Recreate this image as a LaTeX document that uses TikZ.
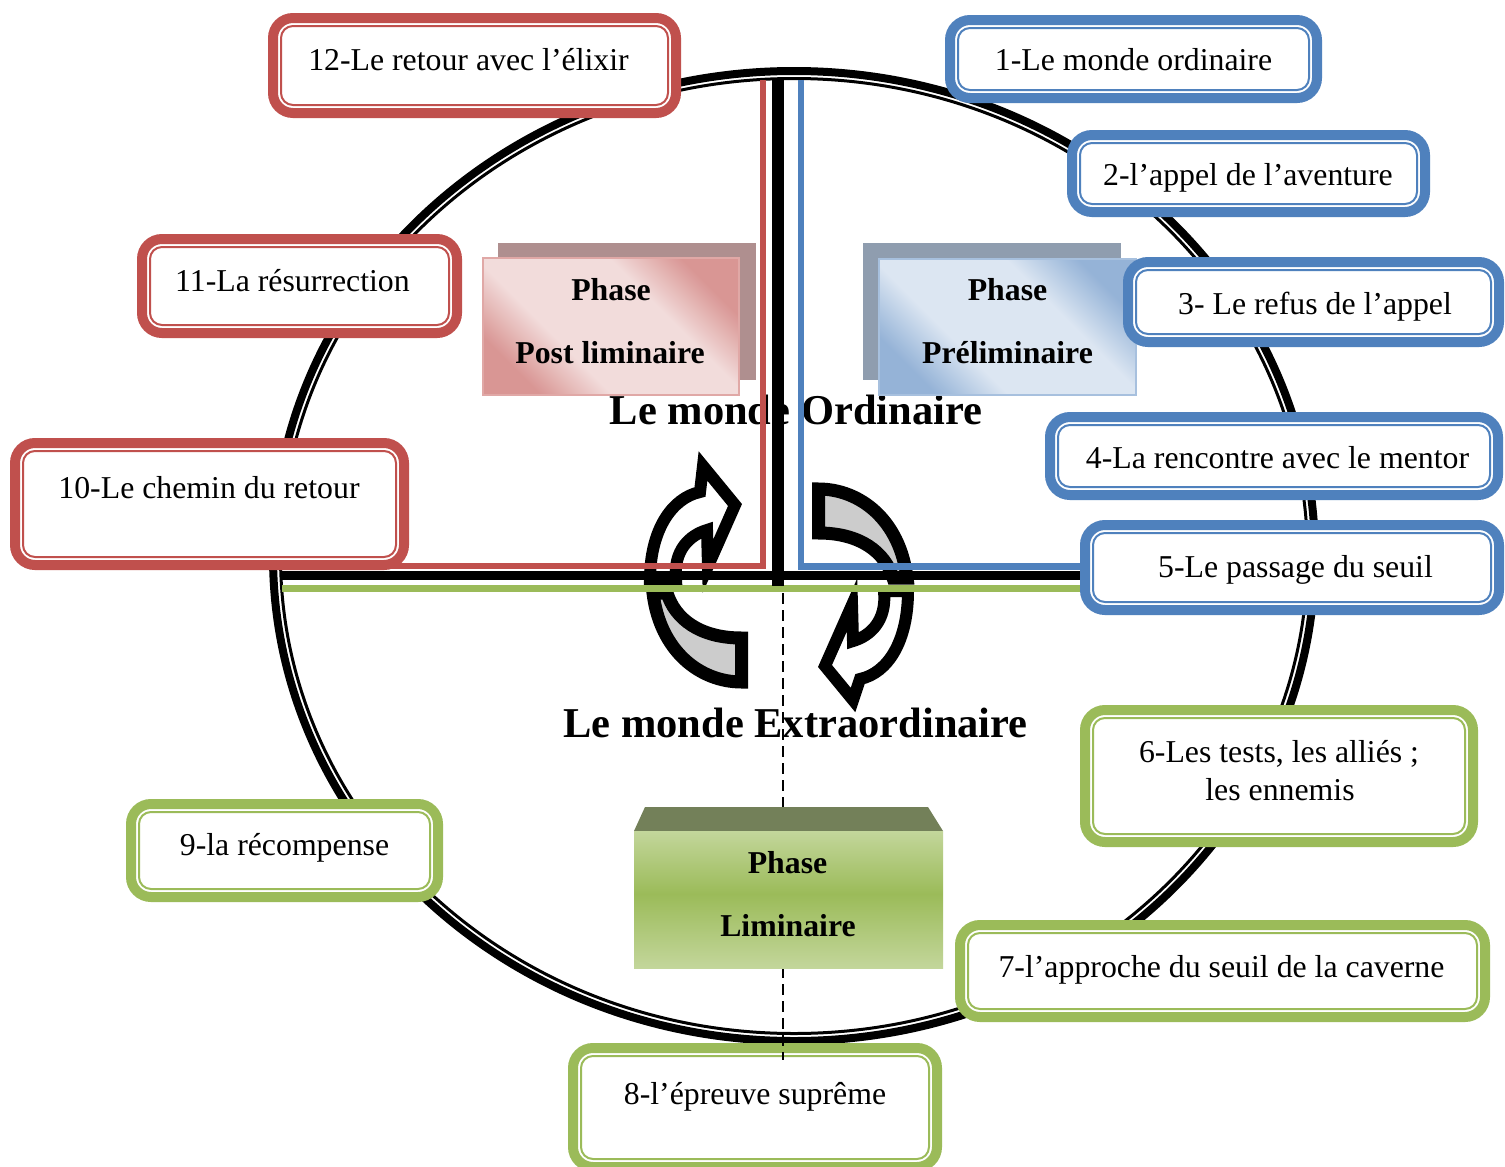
\documentclass[tikz,border=0pt]{standalone}
\usepackage{fontspec}
\setmainfont{Liberation Serif}
\definecolor{cred}{HTML}{C0504D}
\definecolor{cblue}{HTML}{4F81BD}
\definecolor{cgreen}{HTML}{9BBB59}
\definecolor{arrgray}{HTML}{CCCCCC}
\definecolor{pkshadow}{HTML}{AF8F8F}
\definecolor{pklight}{HTML}{F2DCDB}
\definecolor{pkdark}{HTML}{D99694}
\definecolor{pkborder}{HTML}{E0A8A6}
\definecolor{blshadow}{HTML}{8F9DAF}
\definecolor{bllight}{HTML}{DCE6F2}
\definecolor{bldark}{HTML}{95B3D7}
\definecolor{blborder}{HTML}{A7C0DE}
\definecolor{gbevel}{HTML}{738059}
\definecolor{glight}{HTML}{C3D69B}
\definecolor{gmid}{HTML}{9BBB59}
\pgfdeclarehorizontalshading{pinkband}{100bp}{color(0bp)=(pkdark); color(25bp)=(pkdark); color(38bp)=(pklight); color(62bp)=(pklight); color(75bp)=(pkdark); color(100bp)=(pkdark)}
\pgfdeclarehorizontalshading{blueband}{100bp}{color(0bp)=(bldark); color(25bp)=(bldark); color(38bp)=(bllight); color(62bp)=(bllight); color(75bp)=(bldark); color(100bp)=(bldark)}
\pgfdeclareverticalshading{greenband}{100bp}{color(0bp)=(glight); color(25bp)=(glight); color(52bp)=(gmid); color(75bp)=(glight); color(100bp)=(glight)}
\newcommand{\mydblbox}[6]{%
  \draw[line width=10pt, draw=#2, fill=white, rounded corners=20pt] ({#3+5},{#4+5}) rectangle ({#5-5},{#6-5});
  \draw[line width=2pt, draw=#2, rounded corners=12pt] ({#3+13},{#4+13}) rectangle ({#5-13},{#6-13});
  \coordinate (#1) at ({(#3+#5)/2},{(#4+#6)/2});
}
\tikzset{
  boxtxt/.style={font=\fontsize{31.8}{38}\selectfont, inner sep=0pt, anchor=base},
  phasetxt/.style={font=\fontsize{31.8}{38}\selectfont\bfseries, inner sep=0pt, anchor=base},
  bigtxt/.style={font=\fontsize{42.5}{50}\selectfont\bfseries, inner sep=0pt, anchor=base},
  warrow/.style={draw=black, line width=12pt, fill=white, line join=miter, miter limit=6},
  garrow/.style={draw=black, line width=13pt, fill=arrgray, line join=miter},
}
\begin{document}
\begin{tikzpicture}[x=1pt,y=-1pt]
\useasboundingbox (0,0) rectangle (1505,1167);
\fill[white] (0,0) rectangle (1505,1167);
% circle (double line)
\draw[line width=8pt] (794,556) ellipse [x radius=521pt, y radius=485pt];
\draw[line width=3pt] (794,556) ellipse [x radius=513.5pt, y radius=477.5pt];
% circular arrows
\draw[garrow] (818.5,489) .. controls (860,489) and (900,520) .. (907,578) -- (893,578) .. controls (885,552) and (860,533) .. (818.5,533) -- cycle;
\draw[garrow] (741.5,682) .. controls (700,682) and (660,651) .. (653,593) -- (667,593) .. controls (675,619) and (700,638) .. (741.5,638) -- cycle;
\draw[warrow] (650,580) .. controls (650,530) and (672,498) .. (700,492) -- (703,466) -- (735,505) -- (708,566) -- (707,530) .. controls (690,535) and (673,550) .. (676,580) -- cycle;
\draw[warrow] (908,591) .. controls (908,641) and (888,673) .. (860,679) -- (853,700) -- (825,666) -- (852,605) -- (853,641) .. controls (870,636) and (887,621) .. (884,591) -- cycle;
% big labels
\node[bigtxt] (ordinaire) at (796,424) {Le monde Ordinaire};
\node[bigtxt] (extra) at (795.5,737) {Le monde Extraordinaire};
% axes
\draw[line width=9pt] (282,575) -- (1090,575);
\draw[cgreen, line width=6.7pt] (282,588.3) -- (1090,588.3);
\draw[line width=12.6pt] (778,79) -- (778,586);
\draw[cred, line width=6.5pt, line join=miter] (200,566) -- (763,566) -- (763,80);
\draw[cblue, line width=6.5pt, line join=miter] (801,80) -- (801,566.5) -- (1100,566.5);
% phase boxes
\fill[pkshadow] (498,243) rectangle (756,380);
\shadedraw[shading=pinkband, shading angle=45, draw=pkborder, line width=2pt] (483,258) rectangle (739,395);
\node[phasetxt] (pp1) at (611,300) {Phase};
\node[phasetxt] (pp2) at (610,363) {Post liminaire};
\fill[blshadow] (863,243) rectangle (1121,380);
\shadedraw[shading=blueband, shading angle=45, draw=blborder, line width=2pt] (879,259) rectangle (1136,395);
\node[phasetxt] (pr1) at (1007.5,300) {Phase};
\node[phasetxt] (pr2) at (1007.5,363) {Préliminaire};
% box 8 then dashed line
\mydblbox{b8}{cgreen}{568}{1043}{942}{1172}
\draw[line width=2.5pt, dash pattern=on 11pt off 6pt] (783,593) -- (783,1060);
% liminaire box
\fill[gbevel] (645,807) -- (928,807) -- (943,831) -- (634,831) -- cycle;
\shade[shading=greenband] (634,831) rectangle (943,968);
\node[phasetxt] (pl1) at (787.5,873) {Phase};
\node[phasetxt] (pl2) at (788,936) {Liminaire};
% stage boxes
\mydblbox{b1}{cblue}{945}{15}{1322}{103}
\mydblbox{b2}{cblue}{1067}{130}{1430}{217}
\mydblbox{b3}{cblue}{1123}{257}{1504}{347}
\mydblbox{b4}{cblue}{1045}{412}{1503}{500}
\mydblbox{b5}{cblue}{1080}{520}{1504}{615}
\mydblbox{b6}{cgreen}{1080}{705}{1478}{847}
\mydblbox{b7}{cgreen}{955}{920}{1490}{1022}
\mydblbox{b9}{cgreen}{126}{799}{443}{902}
\mydblbox{b10}{cred}{10}{438}{409}{570}
\mydblbox{b11}{cred}{137}{234}{462}{338}
\mydblbox{b12}{cred}{268}{13}{681}{118}
% texts
\node[boxtxt] (t1) at (1133.5,70) {1-Le monde ordinaire};
\node[boxtxt] (t2) at (1248,185) {2-l’appel de l’aventure};
\node[boxtxt] (t3) at (1315,314) {3- Le refus de l’appel};
\node[boxtxt] (t4) at (1277.5,468) {4-La rencontre avec le mentor};
\node[boxtxt] (t5) at (1295.5,577) {5-Le passage du seuil};
\node[boxtxt] (t6a) at (1279,762) {6-Les tests, les alliés ;};
\node[boxtxt] (t6b) at (1280,800) {les ennemis};
\node[boxtxt] (t7) at (1221.5,977) {7-l’approche du seuil de la caverne};
\node[boxtxt] (t8) at (755,1104) {8-l’épreuve suprême};
\node[boxtxt] (t9) at (284.5,855) {9-la récompense};
\node[boxtxt] (t10) at (209,498) {10-Le chemin du retour};
\node[boxtxt] (t11) at (292.5,291) {11-La résurrection};
\node[boxtxt] (t12) at (468.5,70) {12-Le retour avec l’élixir};
\end{tikzpicture}
\end{document}
